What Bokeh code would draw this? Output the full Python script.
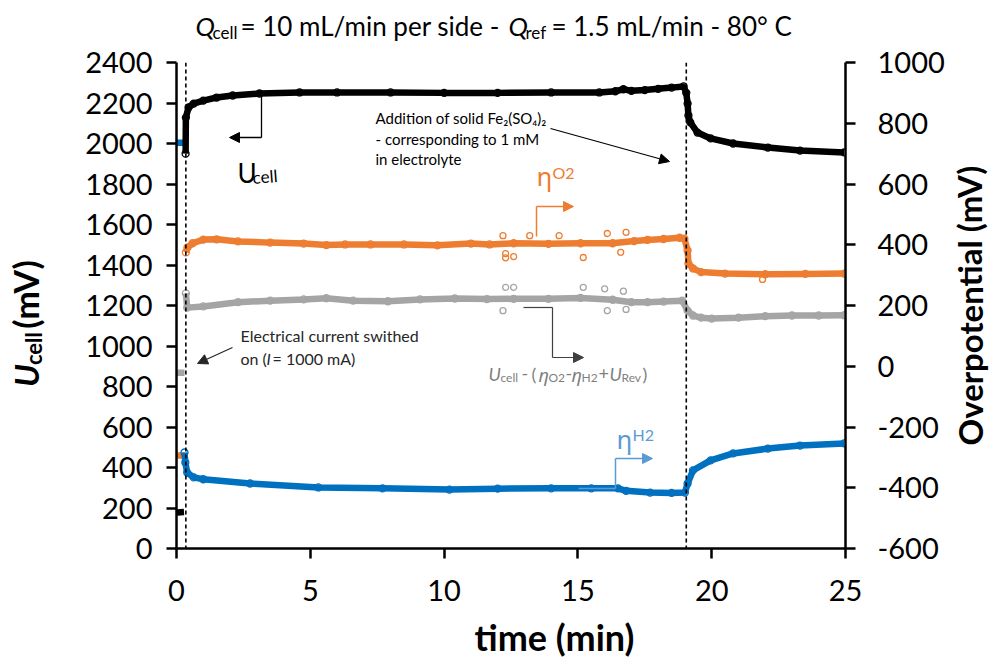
from bokeh.plotting import figure
from bokeh.models import Range1d, LinearAxis, Span, Label, Arrow, NormalHead, FixedTicker
from bokeh.layouts import column, row
from bokeh.embed import file_html
from bokeh.resources import INLINE

# ---------------- data ----------------
event_times = [0.35, 19.05]            # current on / Fe2(SO4)2 addition
x_ticks = [0, 5, 10, 15, 20, 25]
left_ticks = list(range(0, 2401, 200))
right_ticks = list(range(-600, 1001, 200))

# U_cell (left axis, mV)
t_ucell_pre = [0.02, 0.28]
ucell_pre = [178, 180]
t_ucell = [0.34, 0.35, 0.45, 0.64, 1.0, 1.5, 2.1, 3.1, 4.6, 6.0, 8.0, 10.0, 12.0, 14.0,
           15.8, 16.4, 16.7, 17.0, 17.5, 18.0, 18.5, 18.95, 19.05, 19.1, 19.13, 19.2,
           19.47, 19.96, 20.8, 22.1, 23.3, 24.95]
ucell = [1950, 2128, 2178, 2197, 2212, 2227, 2237, 2247, 2252, 2252, 2252, 2250, 2250, 2252,
         2252, 2258, 2268, 2260, 2264, 2270, 2276, 2282, 2250, 2197, 2138, 2104,
         2054, 2025, 2000, 1980, 1965, 1956]

# eta_O2 (right axis, mV)
t_o2_pre = [0.02, 0.3]
o2_pre = [-294, -294]
t_o2 = [0.35, 0.41, 0.6, 1.0, 1.5, 2.3, 3.5, 4.75, 5.6, 6.3, 7.25, 8.5, 9.75, 11.0, 11.7,
        12.6, 13.9, 15.1, 16.3, 17.1, 17.6, 18.2, 18.8, 18.98, 19.1, 19.13, 19.3, 19.6,
        20.5, 22.0, 23.5, 24.95]
o2 = [375, 391, 405, 417, 418, 411, 407, 404, 399, 401, 401, 401, 398, 404, 401,
      405, 403, 405, 405, 412, 416, 419, 423, 420, 381, 338, 322, 310,
      305, 303, 304, 305]
t_o2_out = [12.3, 12.3, 12.6, 15.2, 16.6, 12.2, 13.2, 14.3, 16.1, 16.8, 21.9]
o2_out = [357, 371, 361, 358, 375, 430, 430, 430, 437, 441, 286]

# U_cell - (eta_O2 - eta_H2 + U_rev) (right axis, mV)
t_gr_pre = [0.02, 0.3]
gr_pre = [-21, -21]
t_gr = [0.35, 0.4, 1.0, 2.3, 3.5, 4.75, 5.6, 6.6, 7.9, 9.1, 10.4, 11.6, 12.6, 13.9,
        15.1, 16.3, 17.0, 17.6, 18.2, 18.9, 19.1, 19.3, 19.6, 20.0, 21.0, 22.0, 23.0,
        24.0, 24.95]
gr = [240, 193, 197, 211, 216, 220, 224, 216, 214, 220, 223, 221, 222, 222,
      225, 219, 211, 211, 213, 216, 183, 167, 160, 157, 160, 165, 167,
      167, 168]
t_gr_out = [12.3, 12.6, 15.2, 16.7, 16.0, 12.2, 16.1, 16.8]
gr_out = [260, 260, 260, 247, 255, 183, 183, 187]

# eta_H2 (right axis, mV)
t_h2_pre = [0.02, 0.3]
h2_pre = [736, 736]
t_h2 = [0.3, 0.33, 0.4, 0.64, 1.0, 2.75, 5.3, 7.7, 10.2, 12.0, 14.0, 15.5, 16.5, 16.8,
        17.7, 18.5, 19.0, 19.1, 19.3, 19.96, 20.8, 22.1, 23.3, 24.95]
h2 = [-284, -317, -350, -366, -372, -386, -399, -402, -406, -403, -402, -402, -402, -410,
      -416, -417, -416, -386, -343, -310, -287, -271, -261, -254]

# ---------------- layout (page pixels) ----------------
FX0, FX1, FY1, FY0 = 176, 845, 62, 548   # main frame edges
TOP_H = 43                                # title strip height
LEFT_W = 60                               # left axis-title strip width
RIGHT_W = 41                              # right axis-title strip width
BOT_H = 48                                # x-axis-title strip height
MB_L, MB_R, MB_T, MB_B = FX0 - LEFT_W, 104, FY1 - TOP_H, 64
MAIN_W = MB_L + (FX1 - FX0) + MB_R
MAIN_H = MB_T + (FY0 - FY1) + MB_B
TOTAL_W = LEFT_W + MAIN_W + RIGHT_W
MID_BOTTOM = TOP_H + MAIN_H

BLACK = "#000000"
ORANGE = "#ED7D31"
GREY = "#A5A5A5"
BLUE = "#0070C0"
LBLUE = "#5B9BD5"
FONT = "Lato"


def X(px):
    return (px - FX0) / (FX1 - FX0) * 25.0


def Y(py):
    return (FY0 - py) / (FY0 - FY1) * 2400.0


p = figure(width=MAIN_W, height=MAIN_H, output_backend="svg", toolbar_location=None,
           title=None, x_range=Range1d(0, 25), y_range=Range1d(0, 2400),
           min_border_left=MB_L, min_border_right=MB_R,
           min_border_top=MB_T, min_border_bottom=MB_B)
p.extra_y_ranges = {"op": Range1d(-600, 1000)}
p.outline_line_color = None
p.grid.visible = False
p.background_fill_color = "white"
p.border_fill_color = "white"

right = LinearAxis(y_range_name="op")
p.add_layout(right, "right")

for ax, ticks, stand in ((p.xaxis[0], x_ticks, 21), (p.yaxis[0], left_ticks, 14), (right, right_ticks, 22)):
    ax.ticker = FixedTicker(ticks=ticks)
    ax.major_label_overrides = {t: str(t) for t in ticks}
    ax.axis_line_width = 2.5
    ax.axis_line_color = BLACK
    ax.major_tick_line_width = 2.5
    ax.major_tick_line_color = BLACK
    ax.major_tick_out = 10
    ax.major_tick_in = 0
    ax.minor_tick_line_color = None
    ax.major_label_text_font = FONT
    ax.major_label_text_font_size = "29px"
    ax.major_label_text_color = BLACK
    ax.major_label_standoff = stand
    ax.axis_label = None

for t in event_times:
    p.add_layout(Span(location=t, dimension="height", line_color=BLACK,
                      line_dash="4 3", line_width=1.6))


def series(t, v, color, rng="default"):
    kw = {} if rng == "default" else {"y_range_name": rng}
    p.line(t, v, line_color=color, line_width=6.5, **kw)
    p.scatter(t, v, marker="circle", size=7, fill_color=None, line_color=color,
              line_width=1.3, **kw)


def outliers(t, v, color):
    p.scatter(t, v, marker="circle", size=6, fill_color=None, line_color=color,
              line_width=1.3, y_range_name="op")


series(t_gr, gr, GREY, "op")
outliers(t_gr_out, gr_out, GREY)
p.line(t_gr_pre, gr_pre, line_color=GREY, line_width=6.5, y_range_name="op")

series(t_o2, o2, ORANGE, "op")
outliers(t_o2_out, o2_out, ORANGE)
p.line(t_o2_pre, o2_pre, line_color=ORANGE, line_width=6.5, y_range_name="op")

series(t_h2, h2, BLUE, "op")
p.line(t_h2_pre, h2_pre, line_color=BLUE, line_width=6.5, y_range_name="op")

series(t_ucell, ucell, BLACK)
p.line(t_ucell_pre, ucell_pre, line_color=BLACK, line_width=6.5)


# ---------------- text strips ----------------
def blank(w, h):
    f = figure(frame_width=w, frame_height=h, output_backend="svg", toolbar_location=None,
               title=None, x_range=Range1d(0, w), y_range=Range1d(0, h),
               x_axis_type=None, y_axis_type=None, min_border=0,
               min_border_left=0, min_border_right=0, min_border_top=0, min_border_bottom=0)
    f.outline_line_color = None
    f.background_fill_color = "white"
    f.border_fill_color = "white"
    return f


top = blank(TOTAL_W, TOP_H)
left = blank(LEFT_W, MAIN_H)
rightf = blank(RIGHT_W, MAIN_H)
bottom = blank(TOTAL_W, BOT_H)

# (figure, page x of frame left, page y of frame bottom)
MAIN = (p, FX0, FY0)
TOP = (top, 0, TOP_H)
LEFT = (left, 0, MID_BOTTOM)
RIGHT = (rightf, LEFT_W + MAIN_W, MID_BOTTOM)
BOTTOM = (bottom, 0, MID_BOTTOM + BOT_H)


def lab(where, px, py, text, size, style="normal", color=BLACK, font=FONT, align="left",
        angle=0.0):
    # (px, py) = page position of the text's left edge (or centre) / vertical middle
    f, ox, oy = where
    f.add_layout(Label(x=px - ox, y=oy - py, x_units="screen", y_units="screen",
                       text=text, text_font=font,
                       text_font_size=f"{size}px", text_font_style=style,
                       text_color=color, text_align=align, text_baseline="middle",
                       angle=angle))


def arrow(x0, y0, x1, y1, color, head=True, width=1.3):
    end = NormalHead(size=10, fill_color=color, line_color=color, line_width=1) if head else None
    p.add_layout(Arrow(end=end, x_start=X(x0), y_start=Y(y0), x_end=X(x1), y_end=Y(y1),
                       line_color=color, line_width=width))


# title
lab(TOP, 195, 25, "Q", 26, "italic")
lab(TOP, 212, 32, "cell", 17)
lab(TOP, 240, 25, "= 10 mL/min per side - ", 26)
lab(TOP, 508, 25, "Q", 26, "italic")
lab(TOP, 525, 32, "ref", 17)
lab(TOP, 551, 25, "= 1.5 mL/min - 80° C", 26)

# left axis title (rotated pieces, centred)
lab(LEFT, 25, 356, "U", 33, "bold italic", align="center", angle=1.5708)
lab(LEFT, 33, 329, "cell", 22, "bold", align="center", angle=1.5708)
lab(LEFT, 25, 275, "(mV)", 34, "bold", align="center", angle=1.5708)

# right axis title
lab(RIGHT, 969, 286, "Overpotential (mV)", 33, "bold", align="center", angle=1.5708)

# x axis title
lab(BOTTOM, 554, 636, "time (min)", 36, "bold", align="center")

# U_cell annotation
lab(MAIN, 237, 172, "U", 26)
lab(MAIN, 252, 177, "cell", 17, angle=0.08)
arrow(261, 94, 261, 137, BLACK, head=False)
arrow(261, 137, 229, 137, BLACK)

# Fe2(SO4)2 addition annotation
lab(MAIN, 375, 117, "Addition of solid Fe₂(SO₄)₂", 15)
lab(MAIN, 375, 138, "- corresponding to 1 mM", 15)
lab(MAIN, 375, 158, "in electrolyte", 15)
arrow(550, 128, 669, 161, BLACK, width=1.2)

# eta_O2 annotation
lab(MAIN, 536, 175, "η", 26, color=ORANGE, font="Noto Sans")
lab(MAIN, 552, 172, "O2", 16, color=ORANGE)
arrow(536, 236, 536, 206, ORANGE, head=False, width=1.5)
arrow(536, 206, 573, 206, ORANGE, width=1.5)

# eta_H2 annotation
lab(MAIN, 616, 438, "η", 26, color=LBLUE, font="Noto Sans")
lab(MAIN, 632, 434, "H2", 16, color=LBLUE)
arrow(578, 488, 615, 488, LBLUE, head=False, width=1.5)
arrow(615, 488, 615, 458, LBLUE, head=False, width=1.5)
arrow(615, 458, 652, 458, LBLUE, width=1.5)

# grey annotation
GT = "#7F7F7F"
arrow(523, 307, 552, 307, "#404040", head=False, width=1.2)
arrow(552, 307, 552, 357, "#404040", head=False, width=1.2)
arrow(552, 357, 583, 357, "#404040", width=1.2)
lab(MAIN, 488, 373, "U", 18, "italic", color=GT)
lab(MAIN, 500, 377, "cell", 12, color=GT)
lab(MAIN, 521, 373, "-", 18, color=GT)
lab(MAIN, 531, 373, "(", 18, color=GT)
lab(MAIN, 538, 374, "η", 18, "italic", color=GT, font="Noto Sans")
lab(MAIN, 548, 377, "O2", 12, color=GT)
lab(MAIN, 565, 373, "-", 18, color=GT)
lab(MAIN, 571, 374, "η", 18, "italic", color=GT, font="Noto Sans")
lab(MAIN, 581, 377, "H2", 12, color=GT)
lab(MAIN, 598, 373, "+", 18, color=GT)
lab(MAIN, 609, 373, "U", 18, "italic", color=GT)
lab(MAIN, 621, 377, "Rev", 12, color=GT)
lab(MAIN, 642, 373, ")", 18, color=GT)

# current switched on annotation
lab(MAIN, 240, 335, "Electrical current swithed", 16, color="#262626")
lab(MAIN, 240, 358, "on (", 16, color="#262626")
lab(MAIN, 266, 358, "I", 16, "italic", color="#262626")
lab(MAIN, 272, 358, " = 1000 mA)", 16, color="#262626")
arrow(232, 347, 197, 363, "#262626", width=1.2)

layout = column(top, row(left, p, rightf), bottom)
open("out.html", "w").write(file_html(layout, INLINE))
